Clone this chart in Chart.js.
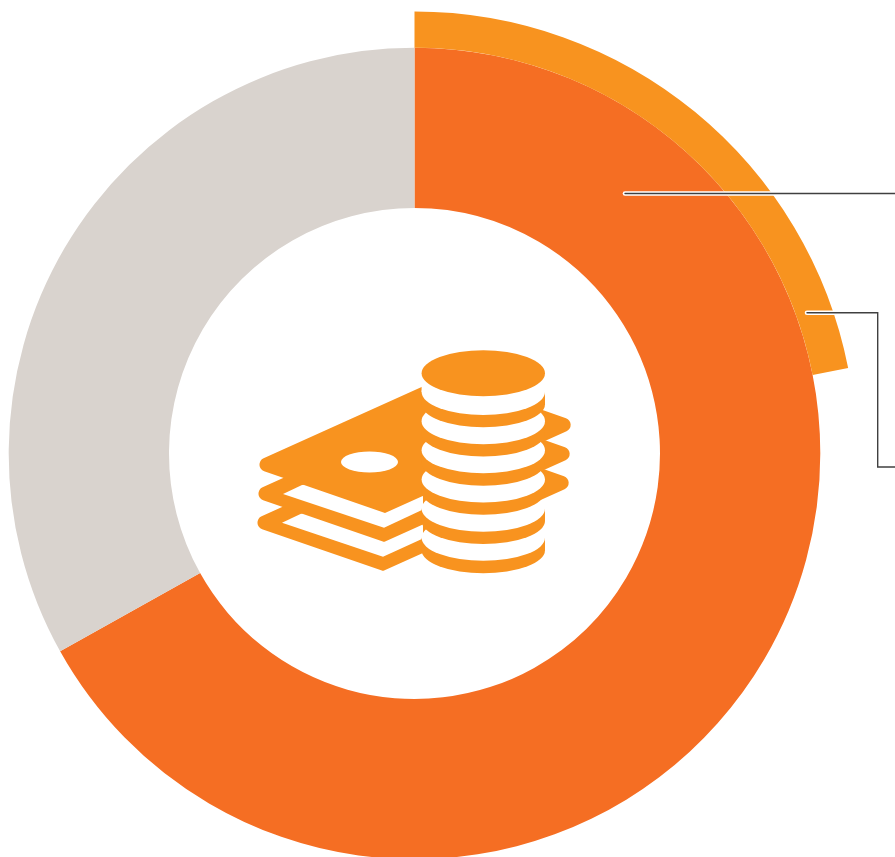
<!DOCTYPE html>
<html>
<head>
<meta charset="utf-8">
<style>
  html, body { margin: 0; padding: 0; background: #fff; width: 895px; height: 857px; overflow: hidden; }
  #chart { position: absolute; left: -28px; top: 0; }
</style>
</head>
<body>
<canvas id="chart" width="923" height="900"></canvas>
<script src="https://cdn.jsdelivr.net/npm/chart.js@4"></script>
<script>
// values, % of the full circle
const mainSegments = ["Main share", "Rest"];
const mainValues = [66.9, 33.1];
const outerSegments = ["Part of main share", "Rest"];
const outerValues = [21.9, 78.1];

const ORANGE = "#F56E23";
const AMBER = "#F8931F";
const GREY = "#D9D3CE";
const LINE = "#404040";

const CANVAS_LEFT = -28; // canvas hangs off the left edge of the page

function ellipse(ctx, cx, cy, rx, ry, color){
  ctx.fillStyle = color;
  ctx.beginPath();
  ctx.ellipse(cx, cy, rx, ry, 0, 0, Math.PI * 2);
  ctx.fill();
}

function polygon(ctx, pts, color){
  ctx.fillStyle = color;
  ctx.beginPath();
  ctx.moveTo(pts[0][0], pts[0][1]);
  for (const p of pts.slice(1)) ctx.lineTo(p[0], p[1]);
  ctx.closePath();
  ctx.fill();
}

// banknote with rounded left and right tips
function note(ctx, dx, dy, apexRadius){
  ctx.fillStyle = AMBER;
  ctx.beginPath();
  ctx.moveTo(320 + dx, 490.5 + dy);
  ctx.arcTo(247.5 + dx, 465.5 + dy, 446 + dx, 376 + dy, 7);
  ctx.lineTo(446 + dx, 376 + dy);
  ctx.arcTo(582.5 + dx, 424 + dy, 385 + dx, 513 + dy, 7);
  ctx.arcTo(385 + dx, 513 + dy, 320 + dx, 490.5 + dy, apexRadius);
  ctx.closePath();
  ctx.fill();
}

function drawIcon(ctx){
  // notes, back to front
  note(ctx, -2, 58, 3);
  polygon(ctx, [[282, 522.7], [301, 513.7], [423, 490], [423, 538.5], [383, 556.7]], "#fff");
  note(ctx, -1, 29, 3);
  polygon(ctx, [[283, 494], [302, 485], [423, 470], [423, 509.5], [384, 527.7]], "#fff");
  note(ctx, 0, 0, 0);
  ellipse(ctx, 369.5, 462, 28.5, 10.5, "#fff");

  // coin stack, bottom coin first
  const cx = 483.3, rx = 61.7, ry = 23, step = 29.17;
  for (let i = 5; i >= 0; i--){
    const whiteY = 392 + step * i;
    const orangeY = 404.3 + step * i;
    ctx.fillStyle = AMBER;
    ctx.fillRect(cx - rx, whiteY, rx * 2, orangeY - whiteY);
    ellipse(ctx, cx, orangeY, rx, ry, AMBER);
    ellipse(ctx, cx, whiteY, rx, ry, "#fff");
  }
  ctx.fillStyle = "#fff";
  ctx.fillRect(cx - rx, 373.3, rx * 2, 392 - 373.3);
  ellipse(ctx, cx, 373.3, rx, ry, AMBER);
}

function leader(ctx, pts){
  ctx.lineCap = "round";
  ctx.lineJoin = "miter";
  for (const [color, width] of [["#fff", 4.6], [LINE, 1.4]]){
    // white halo only shows on the coloured ring
    ctx.strokeStyle = color;
    ctx.lineWidth = width;
    ctx.beginPath();
    ctx.moveTo(pts[0][0], pts[0][1]);
    for (const p of pts.slice(1)) ctx.lineTo(p[0], p[1]);
    ctx.stroke();
  }
}

const decorations = {
  id: "decorations",
  afterDraw(chart){
    const ctx = chart.ctx;
    ctx.save();
    ctx.translate(-CANVAS_LEFT, 0); // from here on, page coordinates
    drawIcon(ctx);
    leader(ctx, [[625, 193.5], [900, 193.5]]);
    leader(ctx, [[807, 312.7], [877.7, 312.7], [877.7, 467], [900, 467]]);
    ctx.restore();
  }
};

new Chart(document.getElementById("chart"), {
  type: "doughnut",
  data: {
    labels: mainSegments,
    datasets: [
      // first dataset is the outermost ring
      { label: outerSegments[0], data: outerValues, backgroundColor: [AMBER, "rgba(0,0,0,0)"], borderWidth: 0, weight: 36.2 },
      { label: mainSegments[0], data: mainValues, backgroundColor: [ORANGE, GREY], borderWidth: 0, weight: 160.3 }
    ]
  },
  options: {
    responsive: false,
    animation: false,
    cutout: 245.5,
    layout: { padding: { left: 0.5, right: 38.5, top: 11.5, bottom: 4.5 } },
    plugins: { legend: { display: false }, tooltip: { enabled: false } }
  },
  plugins: [decorations]
});
</script>
</body>
</html>
